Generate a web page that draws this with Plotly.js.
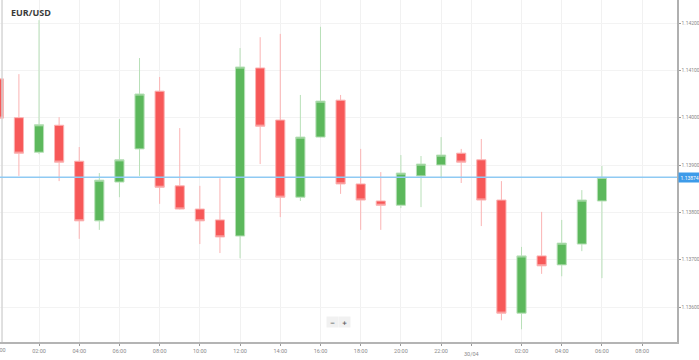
<!DOCTYPE html>
<html>
<head>
<meta charset="utf-8">
<script src="https://cdn.plot.ly/plotly-3.0.1.min.js"></script>
<style>
html,body{margin:0;padding:0;background:#fff;}
#chart{width:699px;height:360px;}
</style>
</head>
<body>
<div id="chart"></div>
<script>
// Hourly EUR/USD candles, 29/04 00:00 to 30/04 06:00
const times = [
  "2019-04-29 00:00","2019-04-29 01:00","2019-04-29 02:00","2019-04-29 03:00",
  "2019-04-29 04:00","2019-04-29 05:00","2019-04-29 06:00","2019-04-29 07:00",
  "2019-04-29 08:00","2019-04-29 09:00","2019-04-29 10:00","2019-04-29 11:00",
  "2019-04-29 12:00","2019-04-29 13:00","2019-04-29 14:00","2019-04-29 15:00",
  "2019-04-29 16:00","2019-04-29 17:00","2019-04-29 18:00","2019-04-29 19:00",
  "2019-04-29 20:00","2019-04-29 21:00","2019-04-29 22:00","2019-04-29 23:00",
  "2019-04-30 00:00","2019-04-30 01:00","2019-04-30 02:00","2019-04-30 03:00",
  "2019-04-30 04:00","2019-04-30 05:00","2019-04-30 06:00"
];
const openP  = [1.14082,1.14000,1.13927,1.13984,1.13908,1.13782,1.13864,1.13934,1.14056,1.13856,1.13807,1.13784,1.13750,1.14105,1.13995,1.13832,1.13959,1.14037,1.13860,1.13824,1.13815,1.13877,1.13900,1.13925,1.13911,1.13826,1.13587,1.13708,1.13689,1.13733,1.13824];
const highP  = [1.14086,1.14092,1.14206,1.14001,1.13938,1.13883,1.13997,1.14126,1.14086,1.13978,1.13856,1.13872,1.14147,1.14170,1.14177,1.14048,1.14192,1.14048,1.13934,1.13885,1.13921,1.13919,1.13959,1.13934,1.13955,1.13866,1.13727,1.13801,1.13784,1.13847,1.13898];
const lowP   = [1.13995,1.13877,1.13923,1.13866,1.13744,1.13763,1.13832,1.13877,1.13818,1.13806,1.13733,1.13714,1.13703,1.13902,1.13790,1.13824,1.13958,1.13839,1.13763,1.13763,1.13809,1.13811,1.13872,1.13862,1.13771,1.13572,1.13553,1.13670,1.13665,1.13718,1.13661];
const closeP = [1.13999,1.13925,1.13985,1.13906,1.13782,1.13868,1.13911,1.14050,1.13853,1.13807,1.13782,1.13748,1.14107,1.13982,1.13832,1.13959,1.14035,1.13860,1.13826,1.13815,1.13883,1.13902,1.13921,1.13906,1.13826,1.13587,1.13708,1.13687,1.13735,1.13826,1.13874];

const lastPrice = 1.13874;
const symbol = "EUR/USD";
const dateLabel = "30/04";
const dateLabelAt = "2019-04-29 23:30";
const yTicks = [1.136,1.137,1.138,1.139,1.140,1.141,1.142];
const xTickVals = [
  "2019-04-29 02:00","2019-04-29 04:00","2019-04-29 06:00","2019-04-29 08:00",
  "2019-04-29 10:00","2019-04-29 12:00","2019-04-29 14:00","2019-04-29 16:00",
  "2019-04-29 18:00","2019-04-29 20:00","2019-04-29 22:00","2019-04-29 23:30",
  "2019-04-30 02:00","2019-04-30 04:00","2019-04-30 06:00","2019-04-30 08:00"
];
const xTickText = ["02:00","04:00","06:00","08:00","10:00","12:00","14:00","16:00",
  "18:00","20:00","22:00"," ","02:00","04:00","06:00","08:00"];

const trace = {
  type: "candlestick",
  x: times, open: openP, high: highP, low: lowP, close: closeP,
  increasing: {line: {color: "#b8e0b8", width: 1}, fillcolor: "#5cb85c"},
  decreasing: {line: {color: "#fbb3b3", width: 1}, fillcolor: "#f75858"},
  whiskerwidth: 0,
  hoverinfo: "none"
};

const tickFont = {family: "Roboto, 'Open Sans', sans-serif", size: 5.5, color: "#8a8a8a"};

const layout = {
  width: 699, height: 360,
  margin: {l: 0, r: 22, t: 0, b: 18, pad: 0},
  paper_bgcolor: "#fff", plot_bgcolor: "#fff",
  showlegend: false,
  boxgap: 0.35,
  title: {
    text: "<b>" + symbol + "</b>",
    xref: "container", yref: "container",
    x: 11/699, xanchor: "left", y: 1 - 12.7/360, yanchor: "middle",
    font: {family: "'Open Sans', Roboto, sans-serif", size: 9, color: "#3a3a3a"}
  },
  xaxis: {
    type: "date",
    range: ["2019-04-29 00:03:35", "2019-04-30 09:44"],
    tickmode: "array", tickvals: xTickVals, ticktext: xTickText,
    showgrid: true, gridcolor: "#f1f1f1", gridwidth: 1,
    showline: true, linecolor: "#b4b4b4", linewidth: 2,
    ticks: "outside", ticklen: 2, tickcolor: "#999", tickwidth: 1,
    tickfont: tickFont,
    zeroline: false, fixedrange: true,
    rangeslider: {visible: false}
  },
  yaxis: {
    side: "right",
    range: [1.135261, 1.142486],
    tickmode: "array", tickvals: yTicks,
    tickformat: ".5f",
    showgrid: true, gridcolor: "#f3f3f3", gridwidth: 1,
    showline: true, linecolor: "#b0b0b0", linewidth: 1.5,
    ticks: "outside", ticklen: 2, tickcolor: "#999", tickwidth: 1,
    tickfont: {family: "Roboto, 'Open Sans', sans-serif", size: 5, color: "#8a8a8a"},
    zeroline: false, fixedrange: true
  },
  shapes: [
    {type: "line", xref: "paper", yref: "paper", x0: 0.003, x1: 0.003, y0: 0, y1: 1,
     line: {color: "#d6d6d6", width: 1.5}},
    {type: "line", xref: "paper", yref: "y", x0: 0, x1: 1, y0: lastPrice, y1: lastPrice,
     line: {color: "#8fcaf3", width: 1.5}}
  ],
  annotations: [
    {xref: "paper", yref: "y", x: 1.002, y: lastPrice, xanchor: "left", yanchor: "middle",
     text: lastPrice.toFixed(5), showarrow: false,
     font: {family: "Roboto, sans-serif", size: 5, color: "#ffffff"},
     bgcolor: "#3d9be9", borderpad: 1.5},
    {xref: "paper", yref: "paper", x: -1/677, y: 0, yshift: -3, xanchor: "center", yanchor: "top",
     text: "00:00", showarrow: false, font: tickFont},
    {xref: "x", yref: "paper", x: dateLabelAt, y: 0, yshift: -12, xanchor: "center", yanchor: "middle",
     text: dateLabel, showarrow: false, font: tickFont},
    {xref: "paper", yref: "paper", x: 332/677, y: 20/342, xanchor: "center", yanchor: "middle",
     text: "<b>−</b>", showarrow: false, bgcolor: "#f1f1f1", borderpad: 1.5, width: 8,
     font: {family: "DejaVu Sans, sans-serif", size: 6, color: "#555"}},
    {xref: "paper", yref: "paper", x: 344/677, y: 20/342, xanchor: "center", yanchor: "middle",
     text: "<b>+</b>", showarrow: false, bgcolor: "#f1f1f1", borderpad: 1.5, width: 8,
     font: {family: "DejaVu Sans, sans-serif", size: 6, color: "#555"}}
  ]
};

Plotly.newPlot("chart", [trace], layout, {displayModeBar: false, staticPlot: true});
</script>
</body>
</html>
